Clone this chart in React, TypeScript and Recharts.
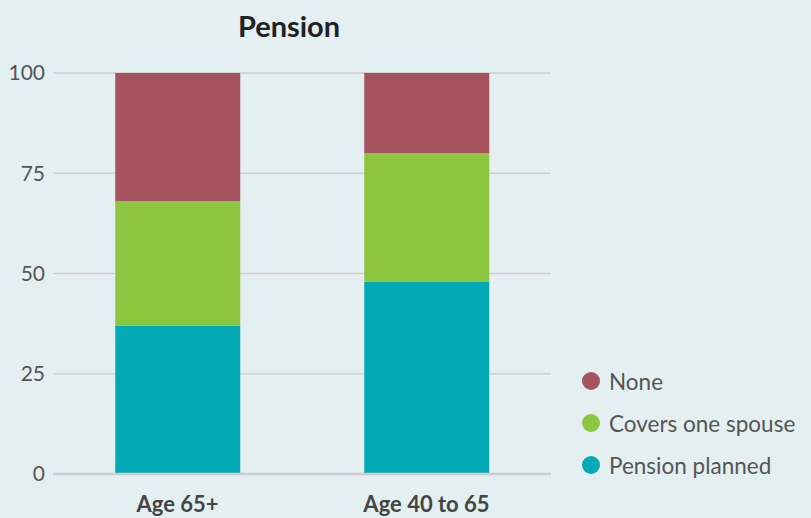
import React from "react";
import { BarChart, Bar, XAxis, YAxis, CartesianGrid, Legend } from "recharts";

const categories = ["Age 65+", "Age 40 to 65"];
const pensionPlanned = [37, 48];
const coversOneSpouse = [31, 32];
const none = [32, 20];
const yTicks = [0, 25, 50, 75, 100];

const seriesInfo = [
  { key: "none", name: "None", color: "#a5545f" },
  { key: "covers", name: "Covers one spouse", color: "#8cc63f" },
  { key: "planned", name: "Pension planned", color: "#00a9b3" },
];

const data = categories.map((c, i) => ({
  category: c,
  planned: pensionPlanned[i],
  covers: coversOneSpouse[i],
  none: none[i],
}));

const FONT = "Lato, 'Noto Sans', sans-serif";

const LegendContent = () => (
  <div style={{ fontFamily: FONT }}>
    {seriesInfo.map((s) => (
      <div key={s.key} style={{ display: "flex", alignItems: "center", height: 42 }}>
        <span
          style={{
            width: 18,
            height: 18,
            borderRadius: 9,
            background: s.color,
            display: "inline-block",
            marginRight: 9,
          }}
        />
        <span style={{ fontSize: 22.5, color: "#555" }}>{s.name}</span>
      </div>
    ))}
  </div>
);

export default function App() {
  return (
    <div
      style={{
        position: "absolute",
        left: 0,
        top: 0,
        width: 811,
        height: 518,
        background: "#e4eff1",
        fontFamily: FONT,
      }}
    >
      <div
        style={{
          position: "absolute",
          left: 0,
          width: 578,
          top: 8,
          textAlign: "center",
          fontSize: 29,
          fontWeight: 700,
          color: "#222",
        }}
      >
        Pension
      </div>
      <BarChart
        width={811}
        height={518}
        data={data}
        margin={{ top: 73, right: 260, left: 0, bottom: 0 }}
        barCategoryGap="25%"
      >
        <CartesianGrid vertical={false} stroke="#d2cfc8" strokeWidth={1.5} />
        <XAxis
          dataKey="category"
          height={44}
          tickLine={false}
          axisLine={{ stroke: "#ccc", strokeWidth: 2.5 }}
          tick={{ fill: "#444", fontSize: 22, fontWeight: 700, fontFamily: FONT }}
          tickMargin={16}
        />
        <YAxis
          width={53}
          domain={[0, 100]}
          ticks={yTicks}
          axisLine={false}
          tickLine={false}
          tick={{ fill: "#555", fontSize: 21, fontFamily: FONT }}
          tickMargin={2}
        />
        <Legend
          layout="horizontal"
          align="center"
          verticalAlign="middle"
          content={<LegendContent />}
          wrapperStyle={{ position: "absolute", left: 582, top: 360, width: 229 }}
        />
        <Bar dataKey="planned" name="Pension planned" stackId="a" fill="#00a9b3" isAnimationActive={false} />
        <Bar dataKey="covers" name="Covers one spouse" stackId="a" fill="#8cc63f" isAnimationActive={false} />
        <Bar dataKey="none" name="None" stackId="a" fill="#a5545f" isAnimationActive={false} />
      </BarChart>
    </div>
  );
}
